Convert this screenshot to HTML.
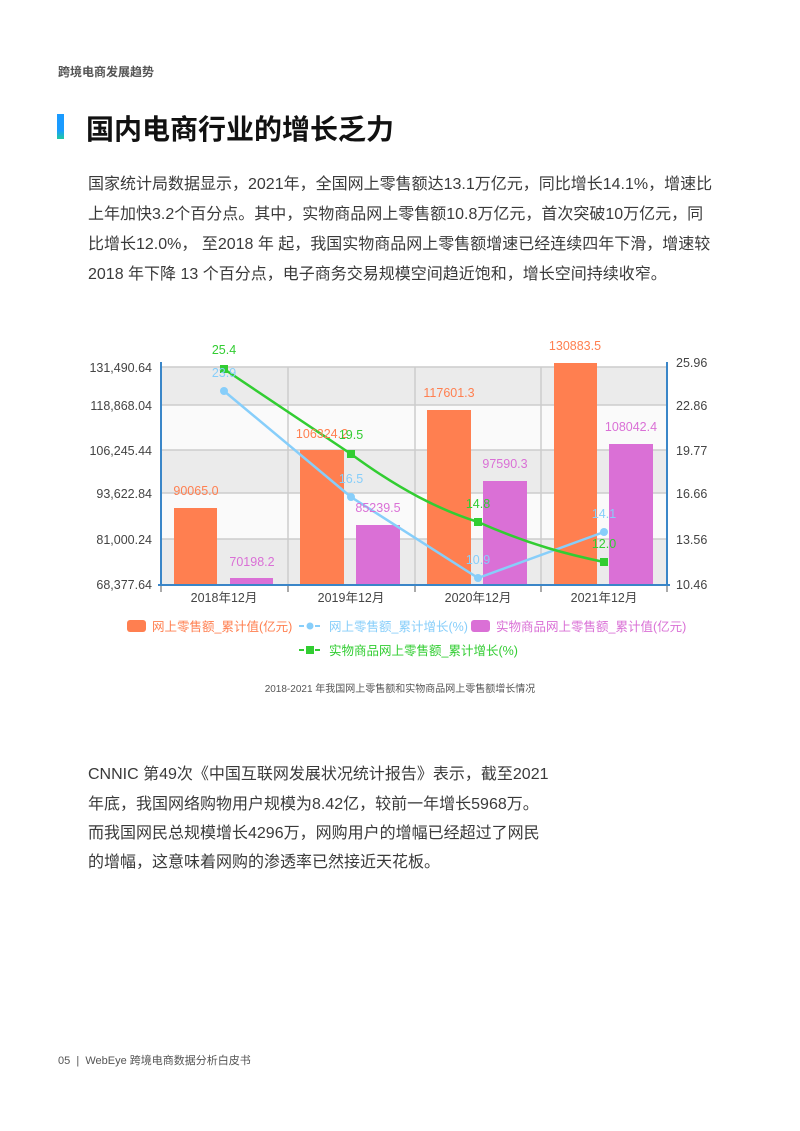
<!DOCTYPE html>
<html><head><meta charset="utf-8"><style>
body{margin:0;width:800px;height:1131px;background:#fff;position:relative;font-family:"Liberation Sans","Noto Sans CJK SC",sans-serif;overflow:hidden}
.t{position:absolute;white-space:nowrap}
.p{font-size:16px;color:#3a3a3a;line-height:30px}
</style></head><body>
<div class="t" style="left:58px;top:63px;font-size:12px;color:#555;font-weight:bold">跨境电商发展趋势</div>
<div style="position:absolute;left:57px;top:114px;width:7px;height:25px;background:linear-gradient(#1a9bff 65%,#20c9a0)"></div>
<div class="t" style="left:86px;top:108px;font-size:28px;font-weight:bold;color:#111">国内电商行业的增长乏力</div>
<div class="t p" style="left:88px;top:170px">国家统计局数据显示，2021年，全国网上零售额达13.1万亿元，同比增长14.1%，增速比</div>
<div class="t p" style="left:88px;top:200px">上年加快3.2个百分点。其中，实物商品网上零售额10.8万亿元，首次突破10万亿元，同</div>
<div class="t p" style="left:88px;top:230px">比增长12.0%， 至2018 年 起，我国实物商品网上零售额增速已经连续四年下滑，增速较</div>
<div class="t p" style="left:88px;top:260px">2018 年下降 13 个百分点，电子商务交易规模空间趋近饱和，增长空间持续收窄。</div>

<svg style="position:absolute;left:0;top:0" width="800" height="720" font-family="Liberation Sans,Noto Sans CJK SC,sans-serif">
<rect x="161" y="367" width="506" height="38" fill="#ebebeb"/>
<rect x="161" y="405" width="506" height="45" fill="#fafafa"/>
<rect x="161" y="450" width="506" height="43" fill="#ebebeb"/>
<rect x="161" y="493" width="506" height="46" fill="#fafafa"/>
<rect x="161" y="539" width="506" height="45" fill="#ebebeb"/>
<g stroke="#ccc" stroke-width="1.5">
<line x1="161" y1="405" x2="667" y2="405"/><line x1="161" y1="450" x2="667" y2="450"/><line x1="161" y1="493" x2="667" y2="493"/><line x1="161" y1="539" x2="667" y2="539"/><line x1="161" y1="367" x2="667" y2="367"/>
<line x1="288" y1="367" x2="288" y2="584"/><line x1="415" y1="367" x2="415" y2="584"/><line x1="541" y1="367" x2="541" y2="584"/>
</g>
<g stroke="#3a86c8" stroke-width="2"><line x1="161" y1="362" x2="161" y2="586"/><line x1="667" y1="362" x2="667" y2="586"/><line x1="158" y1="585" x2="670" y2="585"/></g>
<g stroke="#555" stroke-width="1"><line x1="161" y1="586" x2="161" y2="592"/><line x1="288" y1="586" x2="288" y2="592"/><line x1="415" y1="586" x2="415" y2="592"/><line x1="541" y1="586" x2="541" y2="592"/><line x1="667" y1="586" x2="667" y2="592"/></g>
<g fill="#ff7f50"><rect x="174" y="508" width="43" height="76"/><rect x="300" y="450" width="44" height="134"/><rect x="427" y="410" width="44" height="174"/><rect x="554" y="363" width="43" height="221"/></g>
<g fill="#da70d6"><rect x="230" y="578" width="43" height="6"/><rect x="356" y="525" width="44" height="59"/><rect x="483" y="481" width="44" height="103"/><rect x="609" y="444" width="44" height="140"/></g>
<polyline points="224,391 351,497 478,578 604,532" fill="none" stroke="#87cefa" stroke-width="2.5"/>
<g fill="#87cefa"><circle cx="224" cy="391" r="4"/><circle cx="351" cy="497" r="4"/><circle cx="478" cy="578" r="4"/><circle cx="604" cy="532" r="4"/></g>
<path d="M224,369 L351,454 C400,490 440,510 478,522 C530,545 570,555 604,562" fill="none" stroke="#32cd32" stroke-width="2.5"/>
<g fill="#32cd32"><rect x="220" y="365" width="8" height="8"/><rect x="347" y="450" width="8" height="8"/><rect x="474" y="518" width="8" height="8"/><rect x="600" y="558" width="8" height="8"/></g>
<g font-size="12.5" fill="#444" text-anchor="end">
<text x="152" y="372">131,490.64</text><text x="152" y="410">118,868.04</text><text x="152" y="455">106,245.44</text><text x="152" y="498">93,622.84</text><text x="152" y="544">81,000.24</text><text x="152" y="589">68,377.64</text></g>
<g font-size="12.5" fill="#444"><text x="676" y="367">25.96</text><text x="676" y="410">22.86</text><text x="676" y="455">19.77</text><text x="676" y="498">16.66</text><text x="676" y="544">13.56</text><text x="676" y="589">10.46</text></g>
<g font-size="12.5" fill="#444" text-anchor="middle"><text x="224" y="602">2018年12月</text><text x="351" y="602">2019年12月</text><text x="478" y="602">2020年12月</text><text x="604" y="602">2021年12月</text></g>
<g font-size="12.5" text-anchor="middle">
<g fill="#ff7f50"><text x="196" y="495">90065.0</text><text x="322" y="438">106324.2</text><text x="449" y="397">117601.3</text><text x="575" y="350">130883.5</text></g>
<g fill="#da70d6"><text x="252" y="566">70198.2</text><text x="378" y="512">85239.5</text><text x="505" y="468">97590.3</text><text x="631" y="431">108042.4</text></g>
<g fill="#87cefa"><text x="224" y="377">23.9</text><text x="351" y="483">16.5</text><text x="478" y="564">10.9</text><text x="604" y="518">14.1</text></g>
<g fill="#32cd32"><text x="224" y="354">25.4</text><text x="351" y="439">19.5</text><text x="478" y="508">14.8</text><text x="604" y="548">12.0</text></g>
</g>
<g font-size="12.5">
<rect x="127" y="620" width="19" height="12" rx="3" fill="#ff7f50"/><text x="152" y="631" fill="#ff7f50">网上零售额_累计值(亿元)</text>
<line x1="299" y1="626" x2="322" y2="626" stroke="#87cefa" stroke-width="2" stroke-dasharray="5,3"/><circle cx="310" cy="626" r="3.5" fill="#87cefa"/><text x="329" y="631" fill="#87cefa">网上零售额_累计增长(%)</text>
<rect x="471" y="620" width="19" height="12" rx="3" fill="#da70d6"/><text x="496" y="631" fill="#da70d6">实物商品网上零售额_累计值(亿元)</text>
<line x1="299" y1="650" x2="322" y2="650" stroke="#32cd32" stroke-width="2" stroke-dasharray="5,3"/><rect x="306" y="646" width="8" height="8" fill="#32cd32"/><text x="329" y="655" fill="#32cd32">实物商品网上零售额_累计增长(%)</text>
</g>
<text x="400" y="692" font-size="10" fill="#555" text-anchor="middle">2018-2021 年我国网上零售额和实物商品网上零售额增长情况</text>
</svg>

<div class="t p" style="left:88px;top:760px">CNNIC 第49次《中国互联网发展状况统计报告》表示，截至2021</div>
<div class="t p" style="left:88px;top:790px">年底，我国网络购物用户规模为8.42亿，较前一年增长5968万。</div>
<div class="t p" style="left:88px;top:819px">而我国网民总规模增长4296万，网购用户的增幅已经超过了网民</div>
<div class="t p" style="left:88px;top:848px">的增幅，这意味着网购的渗透率已然接近天花板。</div>
<div class="t" style="left:58px;top:1052px;font-size:11px;color:#555">05 &nbsp;| &nbsp;WebEye 跨境电商数据分析白皮书</div>
</body></html>
